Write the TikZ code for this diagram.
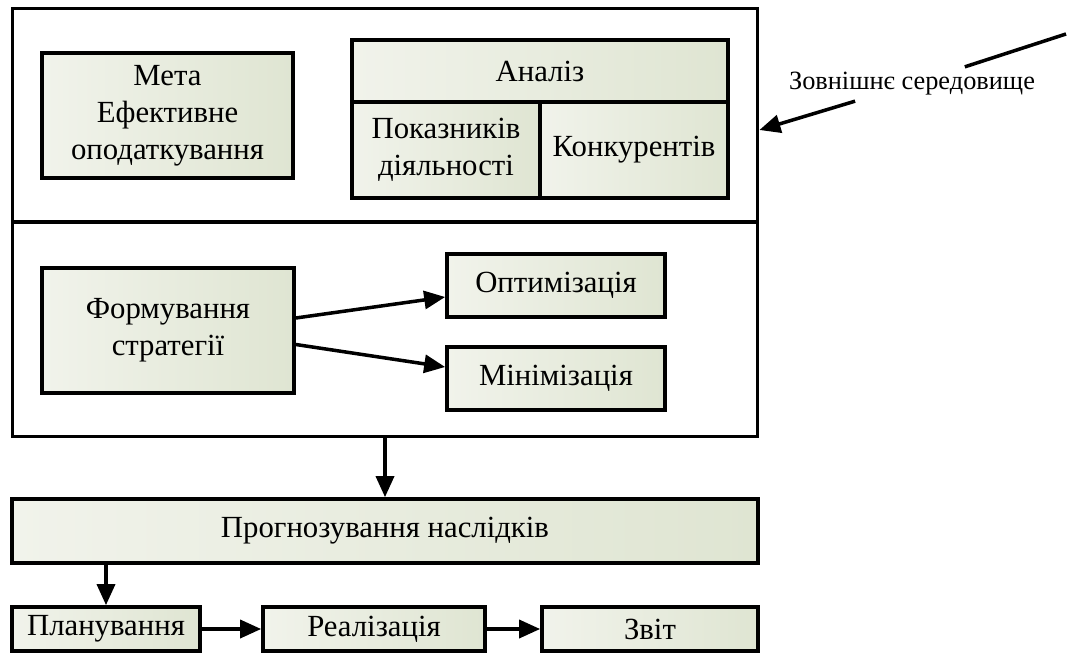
\documentclass[tikz,border=0pt]{standalone}
\usepackage{fontspec}
\setmainfont{Liberation Serif}
\usepackage{xcolor}
\usetikzlibrary{graphs}
\usetikzlibrary{arrows.meta}
\definecolor{boxlight}{RGB}{241,243,235}
\definecolor{boxgreen}{RGB}{223,229,210}
\tikzset{
  frame/.style={draw,line width=1.7pt,fill=white,inner sep=0pt},
  box/.style={draw,line width=2.1pt,left color=boxlight,right color=boxgreen,
    align=center,inner sep=2pt,font=\fontsize{17.5}{21}\selectfont},
  arr/.style={line width=2pt,-{Triangle[length=0.42cm,width=0.36cm]}}
}
\begin{document}
\begin{tikzpicture}[x=0.02cm,y=-0.02cm]
  \useasboundingbox (0,0) rectangle (1068,655);
  \node[frame,minimum width=14.92cm,minimum height=4.28cm] (goal) at (385,115) {};
  \node[frame,minimum width=14.92cm,minimum height=4.3cm] (strat) at (385,329.5) {};
  \node[box,minimum width=5.02cm,minimum height=2.5cm] (meta) at (167.5,115.5) {Мета\\Ефективне\\оподаткування};
  \node[box,minimum width=7.52cm,minimum height=1.24cm] (anal) at (540,71) {Аналіз};
  \node[box,minimum width=3.76cm,minimum height=1.92cm] (indic) at (446,150) {Показників\\діяльності};
  \node[box,minimum width=3.76cm,minimum height=1.92cm] (comp) at (634,150) {Конкурентів};
  \node[box,minimum width=5.04cm,minimum height=2.5cm] (form) at (168,330.5) {Формування\\стратегії};
  \node[box,minimum width=4.36cm,minimum height=1.26cm] (opt) at (556,285.5) {Оптимізація};
  \node[box,minimum width=4.36cm,minimum height=1.26cm] (min) at (556,378.5) {Мінімізація};
  \node[box,minimum width=14.92cm,minimum height=1.28cm] (fore) at (385,531) {Прогнозування наслідків};
  \node[box,minimum width=3.76cm,minimum height=0.88cm] (plan) at (106,629) {Планування};
  \node[box,minimum width=4.44cm,minimum height=0.88cm] (real) at (374,629) {Реалізація};
  \node[box,minimum width=4.32cm,minimum height=0.88cm] (report) at (650,629) {Звіт};
  \coordinate (envstart) at (1066,34);
  \node[inner xsep=2pt,inner ysep=3pt,font=\fontsize{15}{18}\selectfont] (env) at (912,84) {Зовнішнє середовище};
  \draw[line width=2pt] (envstart) -- (env);
  \draw[arr] (env) -- ([yshift=-0.3cm]goal.east);
  \draw[arr] ([yshift=0.25cm]form.east) -- ([yshift=-0.23cm]opt.west);
  \draw[arr] ([yshift=-0.28cm]form.east) -- ([yshift=0.23cm]min.west);
  \draw[arr] (strat.south) -- (fore.north);
  \draw[arr] (plan.north |- fore.south) -- (plan.north);
  \graph[edges={arr}]{(plan) -> (real) -> (report)};
\end{tikzpicture}
\end{document}
